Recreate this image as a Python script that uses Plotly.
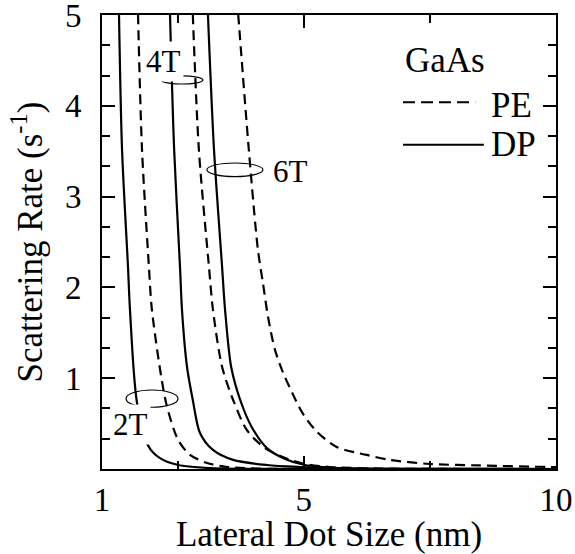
import plotly.graph_objects as go

# ---- data ----
dp_2t_x = [1.337, 1.397, 1.515, 1.555, 1.694, 1.93, 2.15, 2.51, 3.14, 4.0, 10.0]
dp_2t_y = [5.01, 3.52, 2.23, 1.75, 0.73, 0.243, 0.12, 0.044, 0.01, 0.002, 0.0]

pe_2t_x = [1.714, 1.793, 1.93, 1.99, 2.27, 2.51, 2.745, 3.08, 3.48, 4.13, 10.0]
pe_2t_y = [5.01, 3.52, 2.23, 1.75, 0.73, 0.32, 0.155, 0.066, 0.022, 0.004, 0.0]

dp_4t_x = [2.348, 2.43, 2.546, 2.586, 2.685, 2.80, 2.94, 3.20, 3.60, 4.27, 4.93, 5.9, 10.0]
dp_4t_y = [5.01, 3.52, 2.23, 1.75, 1.126, 0.76, 0.40, 0.21, 0.10, 0.044, 0.022, 0.005, 0.0]

pe_4t_x = [2.80, 2.92, 3.12, 3.20, 3.38, 3.60, 3.87, 4.23, 4.63, 5.02, 5.52, 6.5, 10.0]
pe_4t_y = [5.01, 3.52, 2.23, 1.75, 1.126, 0.76, 0.43, 0.23, 0.12, 0.055, 0.022, 0.005, 0.0]

dp_6t_x = [3.10, 3.22, 3.38, 3.44, 3.56, 3.74, 3.97, 4.27, 4.63, 5.02, 5.72, 7.0, 10.0]
dp_6t_y = [5.01, 3.52, 2.23, 1.75, 1.126, 0.76, 0.46, 0.23, 0.11, 0.044, 0.011, 0.002, 0.0]

pe_6t_x = [3.70, 3.91, 4.09, 4.19, 4.29, 4.43, 4.59, 4.77, 4.97, 5.26, 5.66, 6.25, 6.71, 7.50, 8.49, 9.82, 10.0]
pe_6t_y = [5.01, 3.52, 2.42, 2.05, 1.68, 1.31, 1.06, 0.84, 0.62, 0.41, 0.24, 0.155, 0.10, 0.055, 0.039, 0.022, 0.021]

field_labels = ["2T", "4T", "6T"]
label_x = [1.555, 2.21, 4.33]
label_y = [0.49, 4.49, 3.28]
ellipse_x0 = [1.476, 2.17, 3.08]
ellipse_x1 = [2.507, 3.00, 4.19]
ellipse_y0 = [0.68, 4.24, 3.22]
ellipse_y1 = [0.87, 4.33, 3.37]

x_tick_vals = [1, 5, 10]
x_tick_text = ["1", "5", "10"]
x_minor_vals = [2.5, 7.5]
y_tick_vals = [1, 2, 3, 4, 5]
y_tick_text = ["1", "2", "3", "4", "5"]

FONT = "Liberation Serif"
DASH = "10px,6px"

fig = go.Figure()

pairs = [(dp_2t_x, dp_2t_y, "solid"), (pe_2t_x, pe_2t_y, DASH),
         (dp_4t_x, dp_4t_y, "solid"), (pe_4t_x, pe_4t_y, DASH),
         (dp_6t_x, dp_6t_y, "solid"), (pe_6t_x, pe_6t_y, DASH)]
for xs, ys, d in pairs:
    fig.add_trace(go.Scatter(x=xs, y=ys, mode="lines",
                             line=dict(color="black", width=2.2, dash=d, shape="spline", smoothing=0.8),
                             showlegend=False, hoverinfo="skip"))

for i in range(3):
    fig.add_shape(type="circle", xref="x", yref="y",
                  x0=ellipse_x0[i], x1=ellipse_x1[i], y0=ellipse_y0[i], y1=ellipse_y1[i],
                  line=dict(color="black", width=1.2), layer="above")
    fig.add_annotation(x=label_x[i], y=label_y[i], xref="x", yref="y",
                       text=field_labels[i], showarrow=False,
                       xanchor="left" if i == 2 else "center",
                       font=dict(family=FONT, size=31, color="black"),
                       bgcolor="white", borderpad=2)

# custom legend
LEG = 35
fig.add_annotation(x=0.663, y=0.899, xref="paper", yref="paper", text="GaAs",
                   showarrow=False, xanchor="left", yanchor="middle",
                   font=dict(family=FONT, size=LEG, color="black"))
fig.add_shape(type="line", xref="paper", yref="paper", x0=0.663, x1=0.822, y0=0.808, y1=0.808,
              line=dict(color="black", width=2, dash="12px,6px"))
fig.add_annotation(x=0.852, y=0.800, xref="paper", yref="paper", text="PE",
                   showarrow=False, xanchor="left", yanchor="middle",
                   font=dict(family=FONT, size=LEG, color="black"))
fig.add_shape(type="line", xref="paper", yref="paper", x0=0.663, x1=0.841, y0=0.714, y1=0.714,
              line=dict(color="black", width=2))
fig.add_annotation(x=0.852, y=0.714, xref="paper", yref="paper", text="DP",
                   showarrow=False, xanchor="left", yanchor="middle",
                   font=dict(family=FONT, size=LEG, color="black"))

axis_common = dict(showline=True, linecolor="black", linewidth=2, mirror="allticks",
                   ticks="inside", ticklen=13, tickwidth=2, tickcolor="black",
                   showgrid=False, zeroline=False, automargin=False,
                   ticklabeloverflow="allow",
                   tickfont=dict(family=FONT, size=33, color="black"))

fig.update_xaxes(range=[1, 10], tickmode="array", tickvals=x_tick_vals, ticktext=x_tick_text,
                 minor=dict(tickmode="array", tickvals=x_minor_vals, ticks="inside",
                            ticklen=8, tickwidth=2, tickcolor="black"),
                 title=dict(text="Lateral Dot Size (nm)", font=dict(family=FONT, size=35, color="black"),
                            standoff=5),
                 ticklabelstandoff=0, **axis_common)
fig.update_yaxes(range=[0, 5], tickmode="array", tickvals=y_tick_vals, ticktext=y_tick_text,
                 minor=dict(tickmode="array", tickvals=[k / 3 for k in range(16) if k % 3],
                            ticks="inside", ticklen=8, tickwidth=2, tickcolor="black"),
                 title=dict(text="Scattering Rate (s<sup>-1</sup>)",
                            font=dict(family=FONT, size=35, color="black"), standoff=12),
                 ticklabelstandoff=12, **axis_common)

fig.update_layout(width=575, height=554, margin=dict(l=102, r=19, t=15, b=85),
                  plot_bgcolor="white", paper_bgcolor="white", showlegend=False)

# remove the browser's default 8px body margin so the figure fills the window exactly
fig.write_html("out.html", config={"displayModeBar": False},
               post_script="document.body.style.margin='0px';")
